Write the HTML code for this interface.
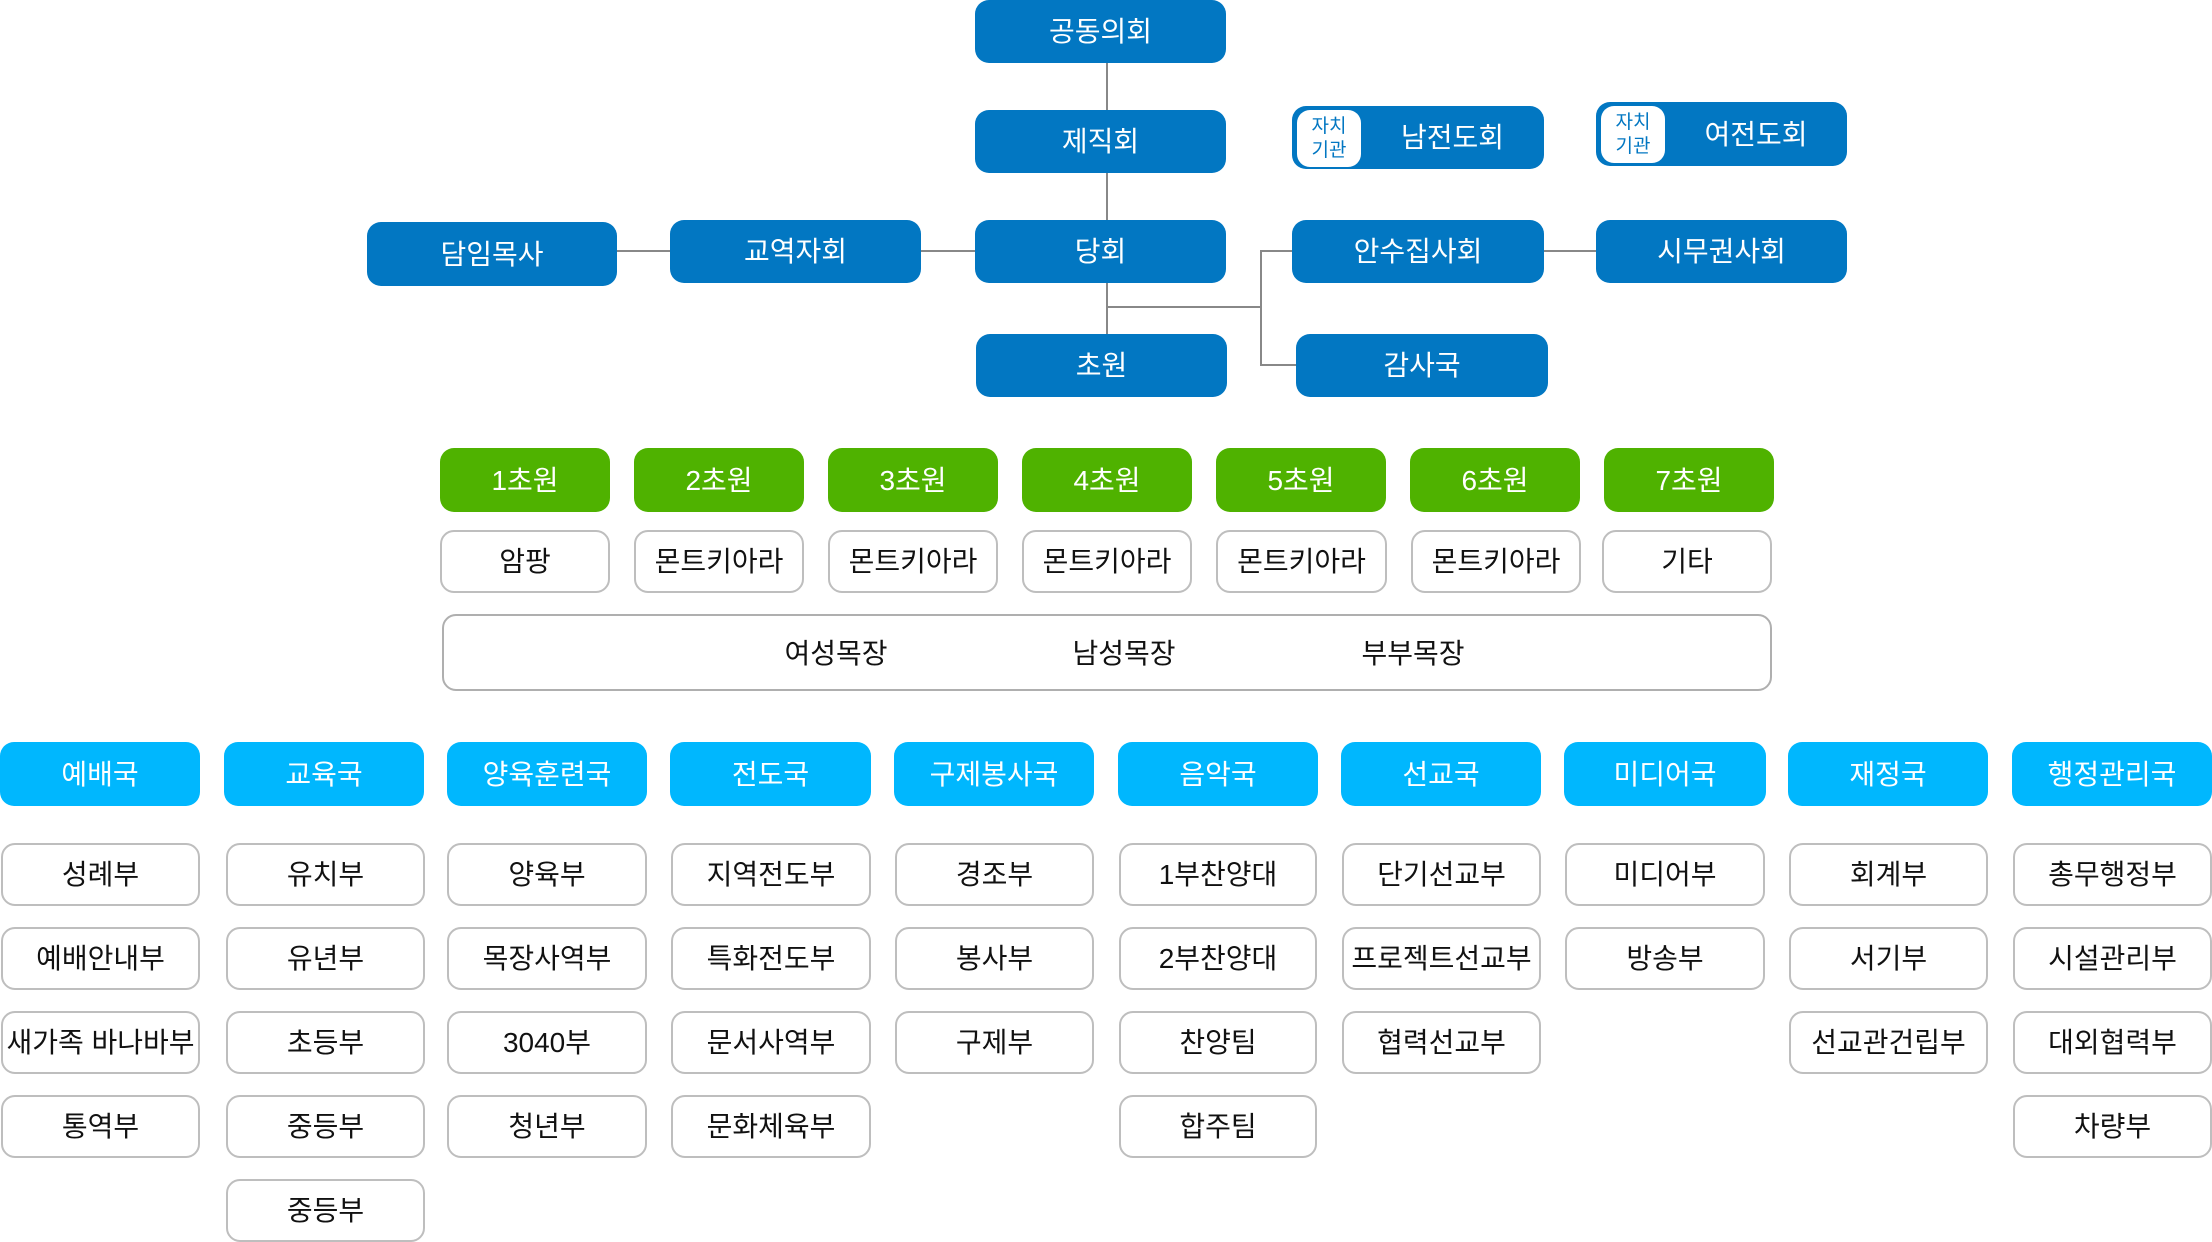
<!DOCTYPE html>
<html>
<head>
<meta charset="utf-8">
<style>
  html,body{margin:0;padding:0;background:#fff;}
  body{width:2212px;height:1242px;position:relative;overflow:hidden;
    font-family:"Liberation Sans","Noto Sans CJK KR",sans-serif;}
  .b{position:absolute;box-sizing:border-box;display:flex;align-items:center;justify-content:center;
     font-size:28px;white-space:nowrap;padding-bottom:3px;}
  .blue{background:#0277C2;color:#fff;border-radius:14px;}
  .green{background:#4FB200;color:#fff;border-radius:14px;}
  .cyan{background:#00B7FE;color:#fff;border-radius:14px;}
  .wh{background:#fff;color:#111;border:2px solid #BEBEBE;border-radius:14px;}
  .badge{position:absolute;left:5px;top:4px;width:64px;height:57px;background:#fff;border-radius:13px;
     color:#0277C2;font-size:19px;line-height:24px;display:flex;flex-direction:column;align-items:center;justify-content:center;}
  .lbl{position:absolute;font-size:28px;color:#111;transform:translateX(-50%);}
</style>
</head>
<body>
<svg width="2212" height="1242" style="position:absolute;left:0;top:0" xmlns="http://www.w3.org/2000/svg">
  <g stroke="#888" stroke-width="2" fill="none">
    <line x1="1107" y1="60" x2="1107" y2="336"/>
    <line x1="1107" y1="307" x2="1262" y2="307"/>
    <line x1="1261" y1="251" x2="1261" y2="366"/>
    <line x1="1260" y1="251" x2="1294" y2="251"/>
    <line x1="1260" y1="365" x2="1298" y2="365"/>
    <line x1="615" y1="251" x2="672" y2="251"/>
    <line x1="919" y1="251" x2="977" y2="251"/>
    <line x1="1542" y1="251" x2="1598" y2="251"/>
  </g>
</svg>

<!-- Top blue -->
<div class="b blue" style="left:975px;top:0;width:251px;height:63px;">공동의회</div>
<div class="b blue" style="left:975px;top:110px;width:251px;height:63px;">제직회</div>
<div class="b blue" style="left:975px;top:220px;width:251px;height:63px;">당회</div>
<div class="b blue" style="left:976px;top:334px;width:251px;height:63px;">초원</div>
<div class="b blue" style="left:367px;top:222px;width:250px;height:64px;">담임목사</div>
<div class="b blue" style="left:670px;top:220px;width:251px;height:63px;">교역자회</div>
<div class="b blue" style="left:1292px;top:220px;width:252px;height:63px;">안수집사회</div>
<div class="b blue" style="left:1596px;top:220px;width:251px;height:63px;">시무권사회</div>
<div class="b blue" style="left:1296px;top:334px;width:252px;height:63px;">감사국</div>

<div class="b blue" style="left:1292px;top:106px;width:252px;height:63px;padding-left:69px;">
  <div class="badge"><span>자치</span><span>기관</span></div>남전도회</div>
<div class="b blue" style="left:1596px;top:102px;width:251px;height:64px;padding-left:69px;">
  <div class="badge"><span>자치</span><span>기관</span></div>여전도회</div>

<!-- Green row -->
<div class="b green" style="left:440px;top:448px;width:170px;height:64px;">1초원</div>
<div class="b green" style="left:634px;top:448px;width:170px;height:64px;">2초원</div>
<div class="b green" style="left:828px;top:448px;width:170px;height:64px;">3초원</div>
<div class="b green" style="left:1022px;top:448px;width:170px;height:64px;">4초원</div>
<div class="b green" style="left:1216px;top:448px;width:170px;height:64px;">5초원</div>
<div class="b green" style="left:1410px;top:448px;width:170px;height:64px;">6초원</div>
<div class="b green" style="left:1604px;top:448px;width:170px;height:64px;">7초원</div>

<div class="b wh" style="left:440px;top:530px;width:170px;height:63px;">암팡</div>
<div class="b wh" style="left:634px;top:530px;width:170px;height:63px;">몬트키아라</div>
<div class="b wh" style="left:828px;top:530px;width:170px;height:63px;">몬트키아라</div>
<div class="b wh" style="left:1022px;top:530px;width:170px;height:63px;">몬트키아라</div>
<div class="b wh" style="left:1216px;top:530px;width:171px;height:63px;">몬트키아라</div>
<div class="b wh" style="left:1411px;top:530px;width:170px;height:63px;">몬트키아라</div>
<div class="b wh" style="left:1602px;top:530px;width:170px;height:63px;">기타</div>

<div class="b wh" style="left:442px;top:614px;width:1330px;height:77px;border-color:#AFAFAF;"></div>
<div class="lbl" style="left:836px;top:632px;">여성목장</div>
<div class="lbl" style="left:1124px;top:632px;">남성목장</div>
<div class="lbl" style="left:1413px;top:632px;">부부목장</div>

<!-- Bottom columns -->
<div class="b cyan" style="left:0px;top:742px;width:200px;height:64px;">예배국</div>
<div class="b cyan" style="left:224px;top:742px;width:200px;height:64px;">교육국</div>
<div class="b cyan" style="left:447px;top:742px;width:200px;height:64px;">양육훈련국</div>
<div class="b cyan" style="left:670px;top:742px;width:201px;height:64px;">전도국</div>
<div class="b cyan" style="left:894px;top:742px;width:200px;height:64px;">구제봉사국</div>
<div class="b cyan" style="left:1118px;top:742px;width:200px;height:64px;">음악국</div>
<div class="b cyan" style="left:1341px;top:742px;width:200px;height:64px;">선교국</div>
<div class="b cyan" style="left:1564px;top:742px;width:202px;height:64px;">미디어국</div>
<div class="b cyan" style="left:1788px;top:742px;width:200px;height:64px;">재정국</div>
<div class="b cyan" style="left:2012px;top:742px;width:200px;height:64px;">행정관리국</div>

<!-- col 1 -->
<div class="b wh" style="left:1px;top:843px;width:199px;height:63px;">성례부</div>
<div class="b wh" style="left:1px;top:927px;width:199px;height:63px;">예배안내부</div>
<div class="b wh" style="left:1px;top:1011px;width:199px;height:63px;">새가족 바나바부</div>
<div class="b wh" style="left:1px;top:1095px;width:199px;height:63px;">통역부</div>
<!-- col 2 -->
<div class="b wh" style="left:226px;top:843px;width:199px;height:63px;">유치부</div>
<div class="b wh" style="left:226px;top:927px;width:199px;height:63px;">유년부</div>
<div class="b wh" style="left:226px;top:1011px;width:199px;height:63px;">초등부</div>
<div class="b wh" style="left:226px;top:1095px;width:199px;height:63px;">중등부</div>
<div class="b wh" style="left:226px;top:1179px;width:199px;height:63px;">중등부</div>
<!-- col 3 -->
<div class="b wh" style="left:447px;top:843px;width:200px;height:63px;">양육부</div>
<div class="b wh" style="left:447px;top:927px;width:200px;height:63px;">목장사역부</div>
<div class="b wh" style="left:447px;top:1011px;width:200px;height:63px;">3040부</div>
<div class="b wh" style="left:447px;top:1095px;width:200px;height:63px;">청년부</div>
<!-- col 4 -->
<div class="b wh" style="left:671px;top:843px;width:200px;height:63px;">지역전도부</div>
<div class="b wh" style="left:671px;top:927px;width:200px;height:63px;">특화전도부</div>
<div class="b wh" style="left:671px;top:1011px;width:200px;height:63px;">문서사역부</div>
<div class="b wh" style="left:671px;top:1095px;width:200px;height:63px;">문화체육부</div>
<!-- col 5 -->
<div class="b wh" style="left:895px;top:843px;width:199px;height:63px;">경조부</div>
<div class="b wh" style="left:895px;top:927px;width:199px;height:63px;">봉사부</div>
<div class="b wh" style="left:895px;top:1011px;width:199px;height:63px;">구제부</div>
<!-- col 6 -->
<div class="b wh" style="left:1119px;top:843px;width:198px;height:63px;">1부찬양대</div>
<div class="b wh" style="left:1119px;top:927px;width:198px;height:63px;">2부찬양대</div>
<div class="b wh" style="left:1119px;top:1011px;width:198px;height:63px;">찬양팀</div>
<div class="b wh" style="left:1119px;top:1095px;width:198px;height:63px;">합주팀</div>
<!-- col 7 -->
<div class="b wh" style="left:1342px;top:843px;width:199px;height:63px;">단기선교부</div>
<div class="b wh" style="left:1342px;top:927px;width:199px;height:63px;">프로젝트선교부</div>
<div class="b wh" style="left:1342px;top:1011px;width:199px;height:63px;">협력선교부</div>
<!-- col 8 -->
<div class="b wh" style="left:1565px;top:843px;width:200px;height:63px;">미디어부</div>
<div class="b wh" style="left:1565px;top:927px;width:200px;height:63px;">방송부</div>
<!-- col 9 -->
<div class="b wh" style="left:1789px;top:843px;width:199px;height:63px;">회계부</div>
<div class="b wh" style="left:1789px;top:927px;width:199px;height:63px;">서기부</div>
<div class="b wh" style="left:1789px;top:1011px;width:199px;height:63px;">선교관건립부</div>
<!-- col 10 -->
<div class="b wh" style="left:2013px;top:843px;width:199px;height:63px;">총무행정부</div>
<div class="b wh" style="left:2013px;top:927px;width:199px;height:63px;">시설관리부</div>
<div class="b wh" style="left:2013px;top:1011px;width:199px;height:63px;">대외협력부</div>
<div class="b wh" style="left:2013px;top:1095px;width:199px;height:63px;">차량부</div>
</body>
</html>
